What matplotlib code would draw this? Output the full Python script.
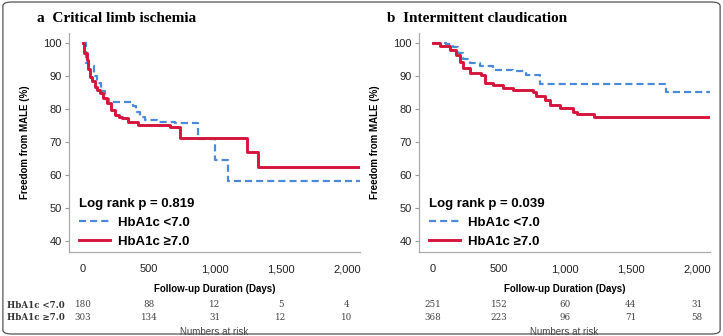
import matplotlib
matplotlib.use("Agg")
import matplotlib.pyplot as plt
from matplotlib.patches import FancyBboxPatch

# panel a: critical limb ischemia
a_low_t = [0, 20, 45, 80, 110, 140, 170, 200, 380, 400, 430, 470, 560, 700, 871, 1000, 1098, 2100]
a_low_s = [100, 94, 93, 90, 88, 85.5, 83, 82, 81, 79, 77.5, 76.8, 76, 75.8, 71, 64.5, 58.2, 58.2]
a_high_t = [0, 10, 28, 40, 53, 70, 91, 110, 129, 150, 180, 210, 242, 270, 293, 341, 417, 659, 735, 1246, 1326, 2100]
a_high_s = [100, 97, 94.8, 92, 89.8, 88.5, 86.8, 85.8, 84.8, 83.3, 81.7, 79.8, 78.2, 77.6, 77.2, 76.1, 75.2, 74.6, 71.1, 67.1, 62.3, 62.3]

# panel b: intermittent claudication
b_low_t = [0, 101, 152, 190, 228, 278, 354, 455, 606, 707, 809, 1765, 2100]
b_low_s = [100, 99.7, 98.9, 96.9, 95.1, 94, 92.9, 91.9, 91.4, 90.3, 87.7, 85.2, 85.2]
b_high_t = [0, 51, 126, 177, 202, 228, 278, 366, 392, 455, 530, 606, 758, 783, 848, 885, 960, 1061, 1090, 1217, 2100]
b_high_s = [100, 99, 98, 96.4, 94.3, 92.3, 90.8, 90.3, 87.8, 87.3, 86.3, 85.8, 85.2, 83.8, 82.8, 81.2, 80.2, 79.2, 78.5, 77.6, 77.6]

risk_times = [0, 500, 1000, 1500, 2000]
a_risk_low = [180, 88, 12, 5, 4]
a_risk_high = [303, 134, 31, 12, 10]
b_risk_low = [251, 152, 60, 44, 31]
b_risk_high = [368, 223, 96, 71, 58]

panels = [
    ("a", "Critical limb ischemia", "Log rank p = 0.819", a_low_t, a_low_s, a_high_t, a_high_s, a_risk_low, a_risk_high),
    ("b", "Intermittent claudication", "Log rank p = 0.039", b_low_t, b_low_s, b_high_t, b_high_s, b_risk_low, b_risk_high),
]

blue = "#4a8ad8"
red = "#d4163c"
sans = "Liberation Sans"
serif = "Liberation Serif"

fig = plt.figure(figsize=(7.23, 3.36), dpi=100)
fig.patches.append(FancyBboxPatch((0.004, 0.006), 0.992, 0.988, boxstyle="round,pad=0,rounding_size=0.012",
                                  transform=fig.transFigure, fill=False, edgecolor="#555555", linewidth=0.9))

lefts = [69 / 723, 419 / 723]
for i, (letter, title, pval, lt, ls, ht, hs, rl, rh) in enumerate(panels):
    ax = fig.add_axes([lefts[i], 1 - 252 / 336, 291 / 723, 219 / 336])
    ax.plot(lt, ls, drawstyle="steps-post", color=blue, lw=1.6, ls=(0, (3.2, 1.8)), label="HbA1c <7.0")
    ax.plot(ht, hs, drawstyle="steps-post", color=red, lw=2.1, label="HbA1c \u22657.0")
    ax.set_xlim(-106, 2100)
    ax.set_ylim(36.7, 103)
    ax.set_xticks(risk_times)
    ax.set_xticklabels(["0", "500", "1,000", "1,500", "2,000"])
    ax.set_yticks([40, 50, 60, 70, 80, 90, 100])
    for lab in ax.get_xticklabels() + ax.get_yticklabels():
        lab.set_fontfamily(sans)
        lab.set_fontsize(8)
        lab.set_color("#222222")
    ax.tick_params(axis="x", length=0, pad=9)
    ax.tick_params(axis="y", length=3, color="#999999", pad=2)
    for s in ["top", "right"]:
        ax.spines[s].set_visible(False)
    for s in ["left", "bottom"]:
        ax.spines[s].set_color("#aaaaaa")
        ax.spines[s].set_linewidth(0.9)
    ax.set_xlabel("Follow-up Duration (Days)", fontfamily=sans, fontweight="bold", fontsize=7, labelpad=7)
    ax.set_ylabel("Freedom from MALE (%)", fontfamily=sans, fontweight="bold", fontsize=7, labelpad=10)
    leg = ax.legend(loc="lower left", bbox_to_anchor=(-0.005, -0.035), frameon=False, title=pval,
                    prop={"family": sans, "size": 9.5, "weight": "bold"}, handlelength=2.3,
                    handletextpad=0.6, labelspacing=0.5, alignment="left")
    leg.get_title().set_fontfamily(sans)
    leg.get_title().set_fontsize(9.5)
    leg.get_title().set_fontweight("bold")
    ax.text(-0.11, 1.068, letter + "  " + title, transform=ax.transAxes, fontfamily=serif,
            fontweight="bold", fontsize=11, va="center", ha="left")
    tr = ax.get_xaxis_transform()
    for t, n1, n2 in zip(risk_times, rl, rh):
        ax.text(t, -0.242, str(n1), transform=tr, ha="center", va="center", fontfamily="DejaVu Serif",
                fontsize=6.3, color="#444444")
        ax.text(t, -0.301, str(n2), transform=tr, ha="center", va="center", fontfamily="DejaVu Serif",
                fontsize=6.3, color="#444444")
    ax.text(0.5, -0.365, "Numbers at risk", transform=ax.transAxes, ha="center", va="center",
            fontfamily=sans, fontsize=7, color="#444444")

fig.text(7 / 723, 1 - 305 / 336, "HbA1c <7.0", fontfamily="DejaVu Serif", fontweight="bold", fontsize=6.2,
         va="center", color="#333333")
fig.text(7 / 723, 1 - 318 / 336, "HbA1c \u22657.0", fontfamily="DejaVu Serif", fontweight="bold", fontsize=6.2,
         va="center", color="#333333")

fig.savefig("out.png", dpi=100)
